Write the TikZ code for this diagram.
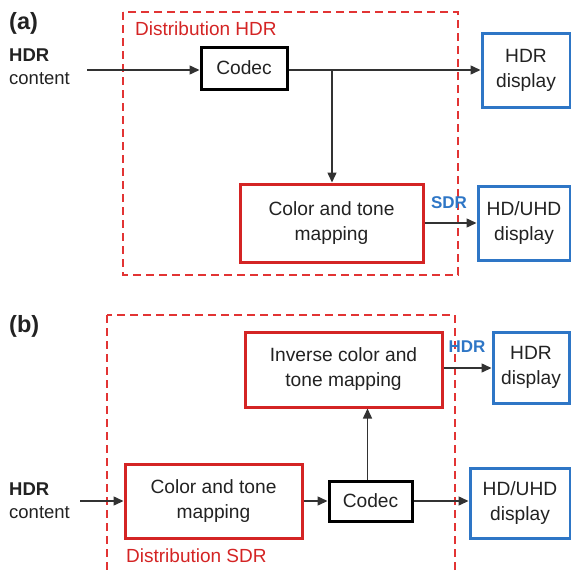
\documentclass[tikz,border=0pt]{standalone}
\usepackage{fontspec}
\setmainfont{Liberation Sans}
\usetikzlibrary{arrows.meta}
\definecolor{boxred}{RGB}{212,36,36}
\definecolor{dashred}{RGB}{226,52,52}
\definecolor{boxblue}{RGB}{46,118,198}
\definecolor{ink}{RGB}{34,34,34}
\definecolor{wire}{RGB}{50,50,50}
\tikzset{
  txt/.style={font=\fontsize{19.2}{25}\selectfont, text=ink, align=center, inner sep=0pt},
  blackbox/.style={txt, draw=black, line width=3pt},
  redbox/.style={txt, draw=boxred, line width=3pt},
  bluebox/.style={txt, draw=boxblue, line width=3pt},
  region/.style={draw=dashred, line width=2pt, dash pattern=on 8pt off 5pt},
  flow/.style={draw=wire, line width=1.5pt, -{Triangle[length=10pt,width=9pt]}},
  panel/.style={font=\fontsize{23.5}{27}\selectfont\bfseries, text=ink, anchor=west, inner sep=0pt},
  srclabel/.style={font=\fontsize{18.5}{23}\selectfont, text=ink, align=left, anchor=west, inner sep=0pt},
  regionlabel/.style={font=\fontsize{19}{23}\selectfont, text=boxred, anchor=west, inner sep=0pt},
  signal/.style={font=\fontsize{17}{20}\selectfont\bfseries, text=boxblue, inner sep=0pt}
}
\begin{document}
\begin{tikzpicture}[x=1pt,y=-1pt]
\useasboundingbox (0,0) rectangle (571,571);
\clip (0,0) rectangle (571,571);

% ---------- panel (a): HDR distribution ----------
\node[panel] (pa) at (9,23) {(a)};
\draw[region] (123,12) rectangle (458,275);
\node[regionlabel] (dista) at (135,29) {Distribution HDR};
\node[srclabel] (srca) at (9,67) {\textbf{HDR}\\content};
\coordinate (ina) at (87,70);
\node[blackbox, minimum width=86pt, minimum height=42pt] (codeca) at (244,68) {Codec};
\node[bluebox, minimum width=88pt, minimum height=74pt] (hdra) at (526,70) {HDR\\display};
\node[redbox, minimum width=183pt, minimum height=78pt] (ctma) at (331.5,223) {Color and tone\\mapping};
\node[bluebox, minimum width=92pt, minimum height=74pt] (uhda) at (524,223) {HD/UHD\\display};
\node[signal] (sdra) at (449,203) {SDR};
\coordinate (splita) at (332,70);

\draw[flow] (ina) -- (codeca.west |- ina);
\draw[flow] (codeca.east |- splita) -- (hdra.west |- splita);
\draw[flow] (splita) -- (splita |- ctma.north);
\draw[flow] (ctma.east) -- (uhda.west |- ctma.east);

% ---------- panel (b): SDR distribution ----------
\node[panel] (pb) at (9,326) {(b)};
\draw[region] (107,315) rectangle (455,600);
\node[regionlabel] (distb) at (126,556) {Distribution SDR};
\node[srclabel] (srcb) at (9,501) {\textbf{HDR}\\content};
\coordinate (inb) at (80,501);
\node[redbox, minimum width=177pt, minimum height=74pt] (ctmb) at (213.5,501) {Color and tone\\mapping};
\node[blackbox, minimum width=83pt, minimum height=40pt] (codecb) at (370.5,501) {Codec};
\node[redbox, minimum width=197pt, minimum height=75pt] (invb) at (343.5,369.5) {Inverse color and\\tone mapping};
\node[bluebox, minimum width=76pt, minimum height=71pt] (hdrb) at (531,367.5) {HDR\\display};
\node[bluebox, minimum width=100pt, minimum height=70pt] (uhdb) at (520,503) {HD/UHD\\display};
\node[signal] (hdrsig) at (467,347) {HDR};

\draw[flow] (inb) -- (ctmb.west);
\draw[flow] (ctmb.east) -- (codecb.west);
\draw[flow] (codecb.east) -- (uhdb.west |- codecb.east);
\draw[flow] ([xshift=-3pt]codecb.north) -- ([xshift=-3pt]codecb.north |- invb.south);
\draw[flow] (invb.east |- 0,368) -- (hdrb.west |- 0,368);
\end{tikzpicture}
\end{document}
